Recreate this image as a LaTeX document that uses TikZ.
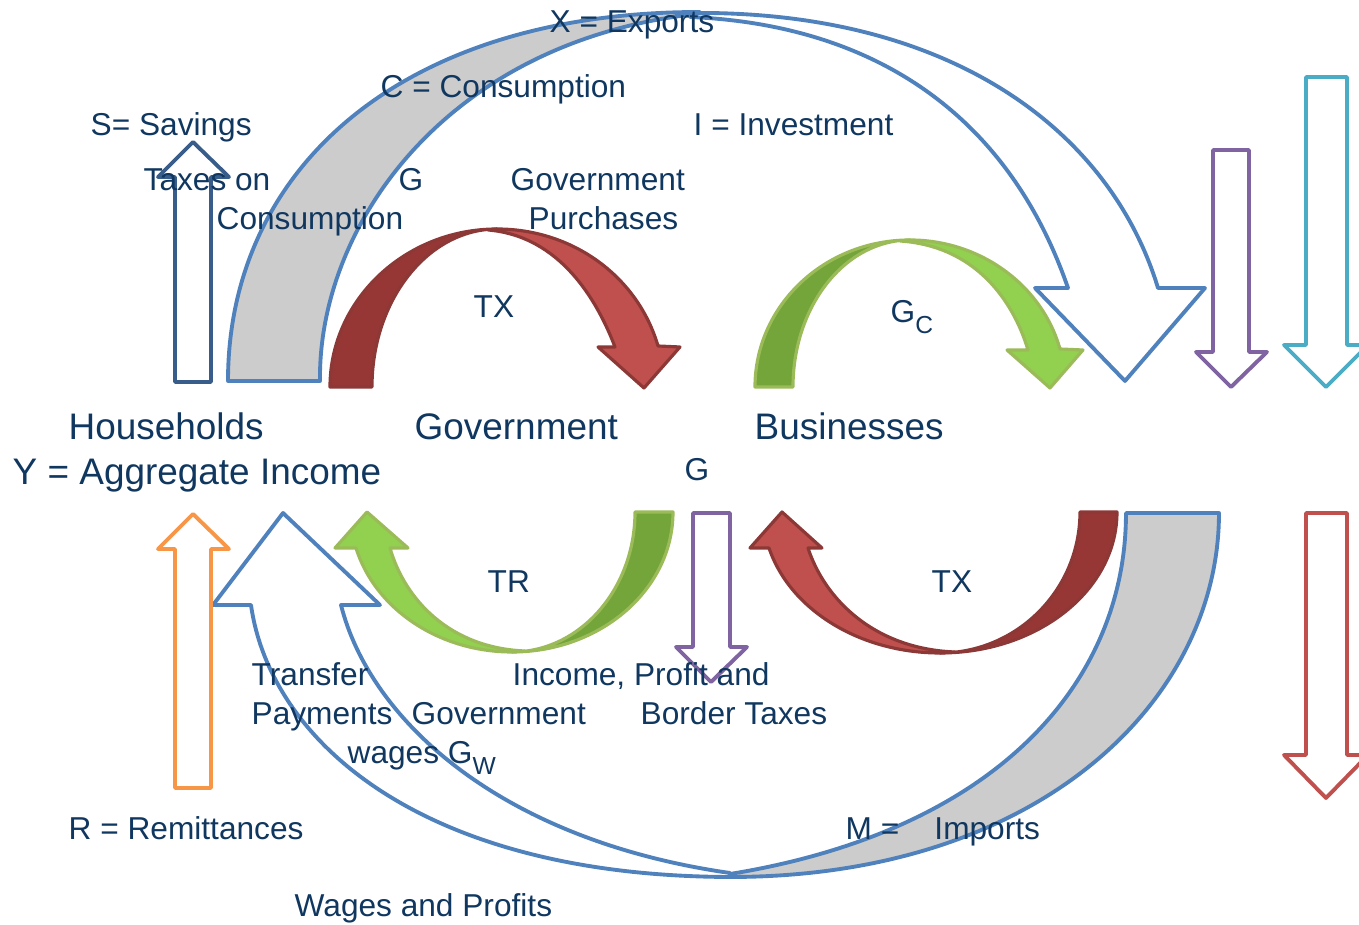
\documentclass[tikz,border=0pt]{standalone}
\usepackage{fontspec}
\setmainfont{Liberation Sans}
\definecolor{texto}{RGB}{16,55,95}
\definecolor{azul}{RGB}{79,129,189}
\definecolor{gris}{RGB}{204,204,204}
\definecolor{rojo}{RGB}{192,80,77}
\definecolor{rojooscuro}{RGB}{150,55,53}
\definecolor{rojoborde}{RGB}{140,56,54}
\definecolor{verde}{RGB}{146,208,80}
\definecolor{verdeoscuro}{RGB}{115,165,58}
\definecolor{verdeborde}{RGB}{155,187,89}
\definecolor{azuloscuro}{RGB}{56,93,138}
\definecolor{naranja}{RGB}{247,150,70}
\definecolor{morado}{RGB}{128,100,162}
\definecolor{cian}{RGB}{75,172,198}
\newcommand{\subind}[1]{\raisebox{-0.65ex}{\fontsize{7}{8}\selectfont #1}}
\begin{document}
\begin{tikzpicture}[x=0.01cm, y=-0.01cm, line join=round,
  etiq/.style={anchor=base west, inner sep=0pt, text=texto, font=\fontsize{9}{11}\selectfont},
  grande/.style={etiq, font=\fontsize{10.5}{13}\selectfont},
  banda/.style={draw=azul, line width=1.1pt},
  cinta/.style={line width=0.9pt},
  recta/.style={fill=white, line width=1.1pt}]
\useasboundingbox (0,0) rectangle (1359,925);
\clip (0,0) rectangle (1359,925);
% Flechas grandes
% ---
% C, X, I (arriba)
% ---
\filldraw[banda, fill=gris] (228,381) .. controls (228,170) and (400,12) .. (700,12) -- (680,16) .. controls (440,50) and (318,230) .. (320,381) -- cycle;
\filldraw[banda, fill=white] (690,13) .. controls (950,10) and (1110,130) .. (1158,288) -- (1205,288) -- (1125,381) -- (1035,288) -- (1068,288) .. controls (1010,120) and (880,25) .. (690,17) -- cycle;
% ---
% M, salarios y beneficios (abajo)
% ---
\filldraw[banda, fill=gris] (730,877) .. controls (1040,877) and (1219,700) .. (1219,513) -- (1126,513) .. controls (1126,680) and (1000,830) .. (730,874) -- cycle;
\filldraw[banda, fill=white] (251,605) .. controls (270,740) and (420,876) .. (730,877) -- (730,873) .. controls (500,840) and (370,720) .. (341,605) -- (380,605) -- (283,513) -- (213,605) -- cycle;
% Cintas
% ---
% TX arriba
% ---
\filldraw[cinta, draw=rojoborde, fill=rojooscuro] (330,387) .. controls (330,300) and (405,229) .. (497,229) .. controls (428,229) and (372,300) .. (372,387) -- cycle;
\filldraw[cinta, draw=rojoborde, fill=rojo] (488,230) -- (497,229) .. controls (573,229) and (638,277) .. (658,346) -- (680,347) -- (644,388) -- (598,347) -- (615,347) .. controls (597,300) and (560,236) .. (488,230) -- cycle;
% ---
% G_C arriba
% ---
\filldraw[cinta, draw=verdeborde, fill=verdeoscuro] (755,387) .. controls (755,306) and (824,240) .. (910,240) .. controls (845,240) and (793,306) .. (793,387) -- cycle;
\filldraw[cinta, draw=verdeborde, fill=verde] (900,241) -- (910,240) .. controls (980,240) and (1042,285) .. (1060,349) -- (1083,350) -- (1050,388) -- (1007,350) -- (1028,350) .. controls (1013,300) and (975,246) .. (900,241) -- cycle;
% ---
% TR abajo
% ---
\filldraw[cinta, draw=verdeborde, fill=verdeoscuro] (673,512) .. controls (673,589) and (601,652) .. (512,652) .. controls (580,652) and (635,589) .. (635,512) -- cycle;
\filldraw[cinta, draw=verdeborde, fill=verde] (525,651) -- (512,652) .. controls (439,652) and (375,609) .. (356,548) -- (335,548) -- (367,512) -- (408,548) -- (390,548) .. controls (405,600) and (450,648) .. (525,651) -- cycle;
% ---
% TX abajo
% ---
\filldraw[cinta, draw=rojoborde, fill=rojooscuro] (1117,512) .. controls (1117,590) and (1038,653) .. (940,653) .. controls (1017,653) and (1080,590) .. (1080,512) -- cycle;
\filldraw[cinta, draw=rojoborde, fill=rojo] (955,652) -- (940,653) .. controls (860,653) and (790,610) .. (769,548) -- (750,548) -- (782,512) -- (822,548) -- (808,548) .. controls (825,600) and (875,649) .. (955,652) -- cycle;
% Flechas rectas
\filldraw[recta, draw=azuloscuro] (175,382) -- (175,177) -- (158,177) -- (193,142) -- (229,177) -- (211,177) -- (211,382) -- cycle;
\filldraw[recta, draw=naranja] (175,788) -- (175,549) -- (158,549) -- (193,514) -- (229,549) -- (211,549) -- (211,788) -- cycle;
\filldraw[recta, draw=morado] (693,513) -- (730,513) -- (730,647) -- (747,647) -- (711,682) -- (676,647) -- (693,647) -- cycle;
\filldraw[recta, draw=morado] (1213,150) -- (1249,150) -- (1249,352) -- (1267,352) -- (1231,387) -- (1196,352) -- (1213,352) -- cycle;
\filldraw[recta, draw=cian] (1306,77) -- (1347,77) -- (1347,345) -- (1368,345) -- (1326,387) -- (1284,345) -- (1306,345) -- cycle;
\filldraw[recta, draw=rojo] (1306,513) -- (1347,513) -- (1347,755) -- (1368,755) -- (1326,798) -- (1284,755) -- (1306,755) -- cycle;
% Textos
\node[etiq] (X) at (549,33) {X = Exports};
\node[etiq] (C) at (380,98) {C = Consumption};
\node[etiq] (S) at (90,136) {S= Savings};
\node[etiq] (I) at (693,136) {I = Investment};
\node[etiq] (Tc1) at (143,191) {Taxes on};
\node[etiq] (Tc2) at (216,230) {Consumption};
\node[etiq] (G1) at (398,191) {G};
\node[etiq] (GP1) at (510,191) {Government};
\node[etiq] (GP2) at (528,230) {Purchases};
\node[etiq] (TX1) at (473,318) {TX};
\node[etiq] (GC) at (890,323) {G\subind{C}};
\node[grande] (H) at (68,440) {Households};
\node[grande] (Y) at (12,485) {Y = Aggregate Income};
\node[grande] (Gov) at (414,440) {Government};
\node[grande] (B) at (754,440) {Businesses};
\node[etiq] (G2) at (684,481) {G};
\node[etiq] (TR) at (487,593) {TR};
\node[etiq] (TX2) at (931,593) {TX};
\node[etiq] (TP1) at (251,686) {Transfer};
\node[etiq] (TP2) at (251,725) {Payments};
\node[etiq] (GW1) at (411,725) {Government};
\node[etiq] (GW2) at (347,764) {wages G\subind{W}};
\node[etiq] (IP1) at (512,686) {Income, Profit and};
\node[etiq] (IP2) at (640,725) {Border Taxes};
\node[etiq] (R) at (68,840) {R = Remittances};
\node[etiq] (M) at (845,840) {M =\hspace{10pt}Imports};
\node[etiq] (WP) at (294,917) {Wages and Profits};
\end{tikzpicture}
\end{document}
